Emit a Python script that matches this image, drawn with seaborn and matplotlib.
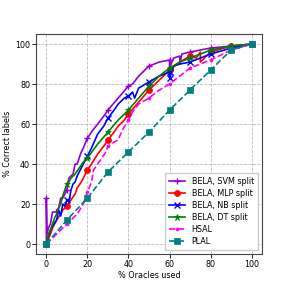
import numpy as np
import matplotlib
matplotlib.use("Agg")
import matplotlib.pyplot as plt
import pandas as pd
import seaborn as sns

# % oracles used (x) vs % correct labels (y)
svm_x = [0, 0, 0.3, 1, 2, 3, 5, 5, 6, 7, 8, 9, 10, 11, 12, 13, 14, 15, 16, 17, 18, 20, 22, 25, 28, 30,
         35, 40, 42, 45, 50, 55, 60, 60, 62, 65, 65, 66, 70, 75, 80, 90, 100]
svm_y = [0, 23, 5, 8, 10, 16, 16, 17, 18, 23, 23, 25, 27, 33, 34, 35, 40, 40, 43, 46, 48, 53, 56, 60, 64, 67,
         73, 79, 80, 84, 89, 91, 92, 88, 93, 94, 90, 95, 96, 97, 98, 99, 100]

mlp_x = [0, 2, 3, 4, 5, 7, 8, 10, 12, 14, 15, 17, 18, 20, 22, 25, 28, 30, 33, 35, 38, 40, 45, 50, 55,
         60, 65, 70, 73, 75, 75, 80, 90, 100]
mlp_y = [0, 5, 8, 10, 12, 15, 17, 19, 22, 25, 28, 31, 33, 37, 40, 45, 49, 52, 56, 59, 62, 65, 71, 77, 82,
         87, 91, 94, 93, 96, 91, 96, 99, 100]

nb_x = [0, 1, 2, 3, 5, 6, 7, 8, 9, 10, 11, 12, 13, 14, 15, 17, 20, 22, 25, 28, 30, 33, 35, 38, 40, 42,
        43, 45, 50, 55, 60, 60, 62, 65, 70, 75, 80, 90, 100]
nb_y = [0, 4, 7, 9, 12, 17, 14, 20, 19, 22, 21, 27, 30, 31, 34, 38, 44, 48, 55, 59, 63, 67, 70, 73, 74, 76,
        73, 78, 81, 84, 86, 83, 89, 90, 91, 93, 95, 98, 100]

dt_x = [0, 1, 2, 3, 4, 5, 6, 7, 8, 9, 10, 11, 12, 14, 16, 18, 20, 25, 30, 35, 40, 45, 50, 55, 60, 65,
        70, 80, 90, 100]
dt_y = [0, 5, 7, 10, 13, 15, 18, 20, 24, 27, 30, 31, 33, 35, 38, 41, 43, 50, 56, 62, 67, 73, 79, 84, 88, 91,
        93, 97, 99, 100]

hsal_x = [0, 5, 10, 15, 18, 20, 22, 23, 25, 27, 29, 30, 33, 35, 37, 40, 42, 45, 50, 55, 60, 65, 70, 75,
          80, 90, 100]
hsal_y = [0, 5, 10, 15, 20, 26, 31, 37, 40, 43, 46, 49, 51, 52, 57, 62, 66, 70, 73, 77, 80, 84, 88, 90,
          92, 97, 100]

plal_x = [0, 10, 20, 30, 40, 50, 60, 70, 80, 90, 100]
plal_y = [0, 12, 23, 36, 46, 56, 67, 77, 87, 97, 100]

series = [
    ("BELA, SVM split", svm_x, svm_y, "#9400d3", "+", "-"),
    ("BELA, MLP split", mlp_x, mlp_y, "red", "o", "-"),
    ("BELA, NB split", nb_x, nb_y, "blue", "x", "-"),
    ("BELA, DT split", dt_x, dt_y, "green", "*", "-"),
    ("HSAL", hsal_x, hsal_y, "magenta", ".", "--"),
    ("PLAL", plal_x, plal_y, "teal", "s", "--"),
]

fs = 5.8
plt.rcParams["font.family"] = ["DejaVu Sans"]
fig = plt.figure(figsize=(2.91, 2.91), dpi=100)
ax = fig.add_axes([0.124, 0.127, 0.776, 0.756])

for name, xs, ys, col, mk, ls in series:
    df = pd.DataFrame({"x": xs, "y": ys})
    # markers on the points that sit on multiples of 10
    idx = [i for i, v in enumerate(xs) if v % 10 == 0]
    sns.lineplot(data=df, x="x", y="y", sort=False, estimator=None, ax=ax, color=col,
                 linestyle=ls, marker=mk, markevery=idx, markersize=4.3 if mk != "*" else 5,
                 markeredgewidth=1.0 if mk in "+x" else 0.5, markeredgecolor=col,
                 linewidth=1.2, label=name)

ax.set_xlim(-5, 105)
ax.set_ylim(-5, 105)
ax.set_xticks([0, 20, 40, 60, 80, 100])
ax.set_yticks([0, 20, 40, 60, 80, 100])
ax.grid(True, linestyle="--", color="#bbbbbb", linewidth=0.6)
ax.set_xlabel("% Oracles used", fontsize=fs, labelpad=1.5)
ax.set_ylabel("% Correct labels", fontsize=fs, labelpad=2)
ax.tick_params(labelsize=fs, length=2.8, width=0.6, pad=1.5)
for s in ax.spines.values():
    s.set_color("#444444")
    s.set_linewidth(0.8)
ax.legend(loc="lower right", fontsize=fs, frameon=True, fancybox=False, framealpha=1,
          edgecolor="#cccccc", handlelength=2, borderpad=0.5, labelspacing=0.38)

fig.savefig("out.png", dpi=100)
